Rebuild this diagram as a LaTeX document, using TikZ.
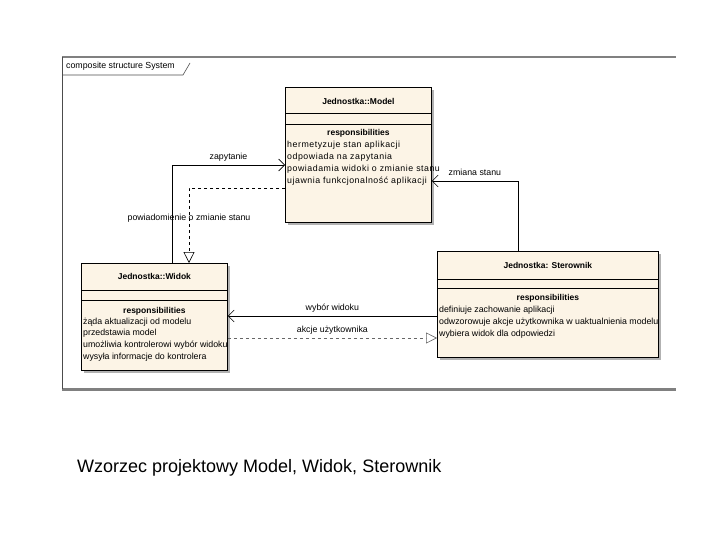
\documentclass[tikz,border=0pt]{standalone}
\usepackage{fontspec}
\setmainfont{Liberation Sans}
\usepackage{tikz}
\usetikzlibrary{positioning}
\usetikzlibrary{calc}
\usetikzlibrary{arrows.meta}
\usetikzlibrary{shadows}
\definecolor{boxfill}{RGB}{252,244,230}
\definecolor{framegray}{RGB}{128,128,128}
\tikzset{umlbox/.style={draw, fill=boxfill, line width=0.8pt, anchor=north west, inner sep=0pt, drop shadow={shadow xshift=3pt, shadow yshift=-3pt, fill=black!30, opacity=1}}}
\tikzset{boxtitle/.style={font=\fontsize{8.5}{10}\selectfont\bfseries, inner sep=0pt}}
\tikzset{resp/.style={font=\fontsize{8.8}{10}\selectfont, anchor=west, inner sep=0pt, text height=6pt, text depth=2pt}}
\tikzset{respwide/.style={resp, font=\fontsize{8.8}{10}\selectfont\addfontfeatures{LetterSpace=6}}}
\tikzset{lbl/.style={font=\fontsize{8.8}{10}\selectfont, inner sep=1pt}}
\tikzset{assoc/.style={-{Straight Barb[length=6pt,width=12pt]}, line width=0.6pt}}
\tikzset{depend/.style={dashed, -{Triangle[open,length=11pt,width=11pt,fill=white]}, line width=0.6pt}}

\begin{document}
\begin{tikzpicture}[x=1pt, y=-1pt]
\useasboundingbox (0,0) rectangle (720,540);

\draw[framegray, line width=2pt] (62,57) -- (676,57);
\draw[framegray, line width=3pt] (62,389) -- (676,389);
\draw[black!70, line width=0.8pt] (62,57) -- (62,389);
\draw[black!70, line width=0.6pt] (62,75) -- (183,75) -- (190,63);
\node[lbl, anchor=west] (frameT) at (65,66) {composite structure System};

\node[umlbox, minimum width=146pt, minimum height=135pt] (model) at (285,87) {};
\node[boxtitle] (modelT) at (model.north |- 0,101) {Jednostka::Model};
\draw (model.west |- 0,113) -- (model.east |- 0,113);
\draw (model.west |- 0,124) -- (model.east |- 0,124);
\node[boxtitle] (modelR) at (model.north |- 0,133) {responsibilities};
\foreach \t [count=\i from 0] in {hermetyzuje stan aplikacji, odpowiada na zapytania, powiadamia widoki o zmianie stanu, ujawnia funkcjonalność aplikacji}
  \node[respwide] at (287,146+12*\i) {\t};

\node[umlbox, minimum width=146pt, minimum height=107pt] (widok) at (81,263) {};
\node[boxtitle] (widokT) at (widok.north |- 0,276) {Jednostka::Widok};
\draw (widok.west |- 0,290) -- (widok.east |- 0,290);
\draw (widok.west |- 0,300) -- (widok.east |- 0,300);
\node[boxtitle] (widokR) at (widok.north |- 0,311) {responsibilities};
\foreach \t [count=\i from 0] in {żąda aktualizacji od modelu, przedstawia model, umożliwia kontrolerowi wybór widoku, wysyła informacje do kontrolera}
  \node[resp] at (83,322+11.7*\i) {\t};

\node[umlbox, minimum width=221pt, minimum height=106pt] (sterownik) at (437,251) {};
\node[boxtitle] (sterownikT) at (sterownik.north |- 0,265) {Jednostka: Sterownik};
\draw (sterownik.west |- 0,279) -- (sterownik.east |- 0,279);
\draw (sterownik.west |- 0,288) -- (sterownik.east |- 0,288);
\node[boxtitle] (sterownikR) at (sterownik.north |- 0,298) {responsibilities};
\foreach \t [count=\i from 0] in {definiuje zachowanie aplikacji, odwzorowuje akcje użytkownika w uaktualnienia modelu, wybiera widok dla odpowiedzi}
  \node[resp] at (439,310+12*\i) {\t};

\draw[assoc] (widok.north -| 172,0) |- (model.west |- 0,165) node[lbl, pos=0.75, above=2pt] {zapytanie};
\draw[depend] (model.west |- 0,188) -| (widok.north -| 189,0) node[lbl, pos=0.7] {powiadomienie o zmianie stanu};
\draw[assoc] (sterownik.north -| 518,0) |- (model.east |- 0,181) node[lbl, pos=0.75, above=4pt] {zmiana stanu};
\draw[assoc] (sterownik.west |- 0,316) -- (widok.east |- 0,316) node[lbl, midway, above=2pt] {wybór widoku};
\draw[depend, black!60] (widok.east |- 0,338) -- (sterownik.west |- 0,338) node[lbl, midway, above=2pt, black] {akcje użytkownika};

\node[font=\fontsize{18}{21}\selectfont, anchor=west, inner sep=0pt] (caption) at (77,468) {Wzorzec projektowy Model, Widok, Sterownik};
\end{tikzpicture}
\end{document}
